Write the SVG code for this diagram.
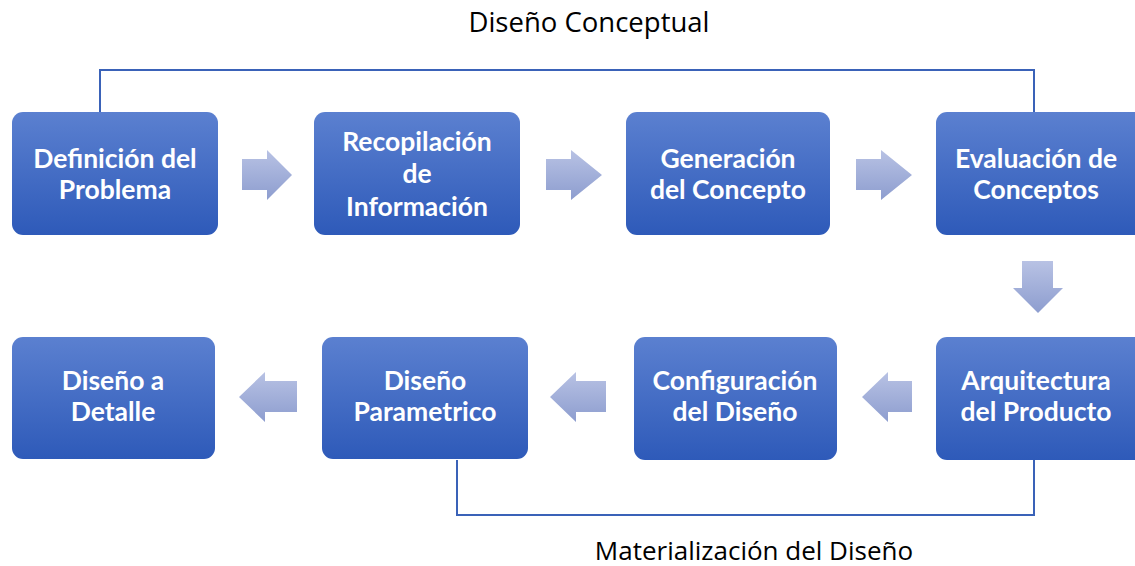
<svg xmlns="http://www.w3.org/2000/svg" width="1135" height="566" viewBox="0 0 1135 566">
<defs>
<linearGradient id="gBox" x1="0" y1="0" x2="0" y2="1">
<stop offset="0" stop-color="#5b80d0"/>
<stop offset="1" stop-color="#2e5ab9"/>
</linearGradient>
<linearGradient id="gArrH" x1="0" y1="0" x2="0" y2="1">
<stop offset="0" stop-color="#b8c2e4"/>
<stop offset="1" stop-color="#8d9dcf"/>
</linearGradient>
<style>
.box{fill:url(#gBox)}
.t{font-family:Lato,"Open Sans",sans-serif;font-weight:bold;font-size:26.5px;fill:#ffffff;text-anchor:middle}
.lbl{font-family:"Open Sans",Lato,sans-serif;font-size:27.5px;fill:#000000;text-anchor:middle}
.ln{fill:none;stroke:#3a62b8;stroke-width:2}
.arr{fill:url(#gArrH)}
</style>
</defs>
<rect width="1135" height="566" fill="#ffffff"/>
<g id="connectors">
<polyline class="ln" points="100,112 100,70 1034,70 1034,112"/>
<polyline class="ln" points="457,460 457,515 1034,515 1034,460"/>
<polygon class="arr" points="242,159 267,159 267,150 292,175 267,200 267,190 242,190"/>
<polygon class="arr" points="546,159 571,159 571,150 602,175 571,200 571,190 546,190"/>
<polygon class="arr" points="856,159 881,159 881,150 912,175 881,200 881,190 856,190"/>
<polygon class="arr" points="1022,261 1053,261 1053,288 1063,288 1038,313 1013,288 1022,288"/>
<polygon class="arr" points="297,381 265,381 265,372 239,397 265,422 265,412 297,412"/>
<polygon class="arr" points="606,381 576,381 576,372 550,397 576,422 576,412 606,412"/>
<polygon class="arr" points="912,381 888,381 888,372 862,397 888,422 888,412 912,412"/>
</g>
<g id="n1"><rect class="box" x="12" y="112" width="206" height="123" rx="11"/><text class="t" x="115" y="168">Definición del</text><text class="t" x="115" y="199">Problema</text></g>
<g id="n2"><rect class="box" x="314" y="112" width="206" height="123" rx="11"/><text class="t" x="417" y="151">Recopilación</text><text class="t" x="417" y="183">de</text><text class="t" x="417" y="216">Información</text></g>
<g id="n3"><rect class="box" x="626" y="112" width="204" height="123" rx="11"/><text class="t" x="728" y="168">Generación</text><text class="t" x="728" y="199">del Concepto</text></g>
<g id="n4"><rect class="box" x="936" y="112" width="210" height="123" rx="11"/><text class="t" x="1036" y="168">Evaluación de</text><text class="t" x="1036" y="199">Conceptos</text></g>
<g id="n5"><rect class="box" x="936" y="337" width="210" height="123" rx="11"/><text class="t" x="1036" y="390">Arquitectura</text><text class="t" x="1036" y="421">del Producto</text></g>
<g id="n6"><rect class="box" x="634" y="337" width="203" height="123" rx="11"/><text class="t" x="735" y="390">Configuración</text><text class="t" x="735" y="421">del Diseño</text></g>
<g id="n7"><rect class="box" x="322" y="337" width="206" height="122" rx="11"/><text class="t" x="425" y="390">Diseño</text><text class="t" x="425" y="421">Parametrico</text></g>
<g id="n8"><rect class="box" x="12" y="337" width="203" height="122" rx="11"/><text class="t" x="113" y="390">Diseño a</text><text class="t" x="113" y="421">Detalle</text></g>
<text class="lbl" x="589" y="32">Diseño Conceptual</text>
<text class="lbl" x="754" y="560" style="font-size:26px">Materialización del Diseño</text>
</svg>
